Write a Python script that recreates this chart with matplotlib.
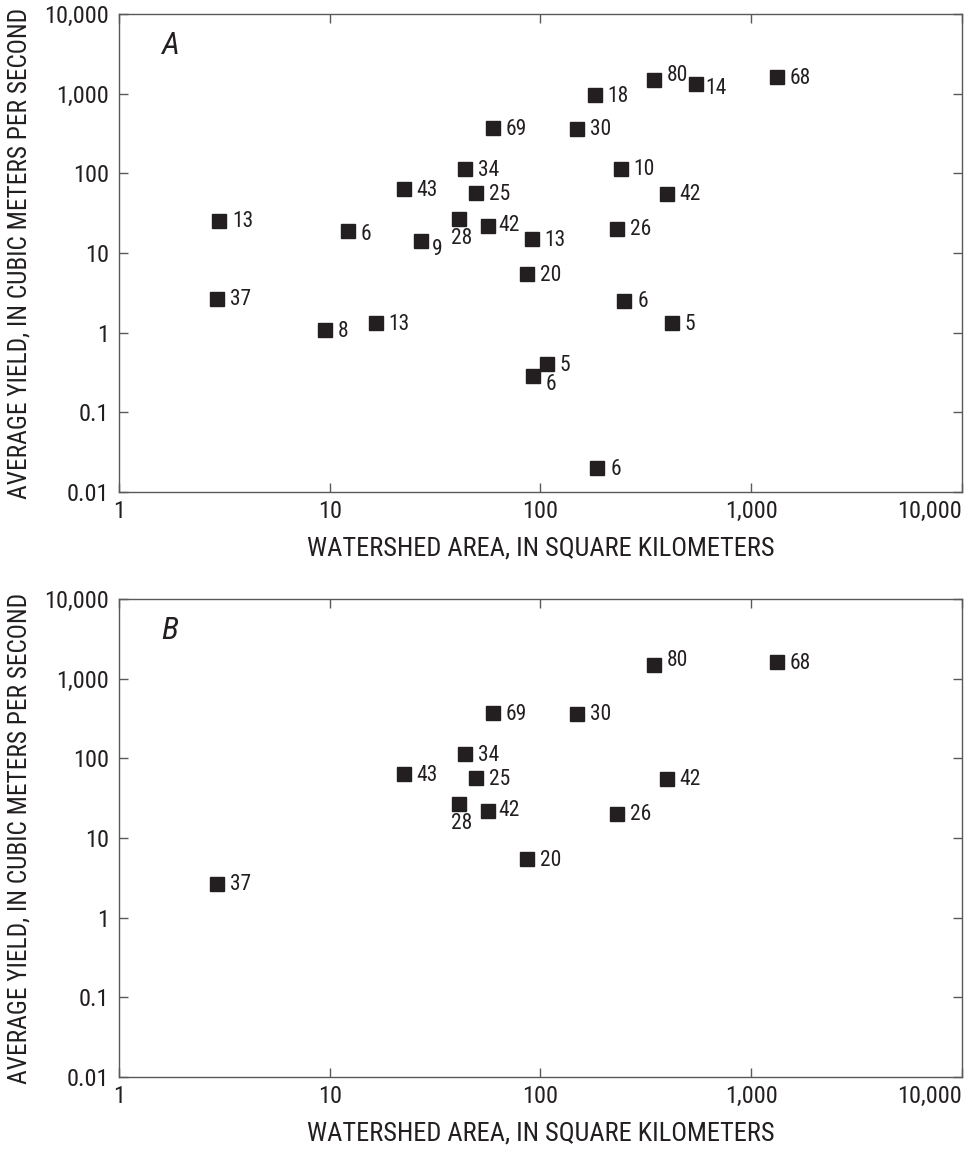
import matplotlib
matplotlib.use('Agg')
import matplotlib.pyplot as plt
from matplotlib import font_manager as fm
from matplotlib.ticker import FixedLocator, FixedFormatter, NullLocator

# panel A: all sites
area_a = [2.98, 2.93, 12.2, 9.53, 16.5, 22.4, 27.0, 40.9, 43.8, 49.3, 56.5, 59.3, 86.6, 90.8,
          92.5, 107, 149, 181, 186, 231, 240, 250, 347, 397, 421, 545, 1321]
yield_a = [25.3, 2.68, 18.9, 1.08, 1.32, 63, 14.3, 26.5, 112, 56, 21.9, 368, 5.42, 14.9,
           0.287, 0.40, 361, 955, 0.020, 20.2, 115, 2.5, 1485, 55.7, 1.32, 1312, 1607]
labels_a = ['13', '37', '6', '8', '13', '43', '9', '28', '34', '25', '42', '69', '20', '13',
            '6', '5', '30', '18', '6', '26', '10', '6', '80', '42', '5', '14', '68']

# panel B: subset
area_b = [2.93, 22.4, 40.9, 43.8, 49.3, 56.5, 59.3, 86.6, 149, 231, 347, 397, 1321]
yield_b = [2.68, 63, 26.5, 112, 56, 21.9, 368, 5.42, 361, 20.2, 1485, 55.7, 1607]
labels_b = ['37', '43', '28', '34', '25', '42', '69', '20', '30', '26', '80', '42', '68']

x_ticks = [1, 10, 100, 1000, 10000]
x_ticklabels = ['1', '10', '100', '1,000', '10,000']
y_ticks = [0.01, 0.1, 1, 10, 100, 1000, 10000]
y_ticklabels = ['0.01', '0.1', '1', '10', '100', '1,000', '10,000']

# label offsets in points (dx, dy, ha) for labels that are not simply to the right
nudge_a = {2: (9.5, -2.2, 'left'), 6: (8, -6.5, 'left'), 7: (2.4, -14, 'center'),
           10: (7.2, 0, 'left'), 14: (9.1, -6, 'left'), 22: (8.6, 3.2, 'left'),
           25: (6.7, -3, 'left')}
nudge_b = {2: (2.4, -14, 'center'), 5: (7.2, 0, 'left'), 10: (8.6, 3.2, 'left')}


# the original uses a condensed sans; look for one, else shrink Liberation Sans
def pick_font():
    names = {f.name for f in fm.fontManager.ttflist}
    for p in ['Liberation Sans Narrow', 'Arial Narrow', 'Roboto Condensed',
              'DejaVu Sans Condensed', 'Open Sans Condensed', 'Noto Sans Condensed']:
        if p in names:
            return p, None, 1.0
    for f in fm.fontManager.ttflist:
        n = f.name
        if any(k in n for k in ('Mono', 'Serif', 'CJK', 'Math')):
            continue
        if ('Narrow' in n or 'Condensed' in n) and f.style == 'normal':
            return n, None, 1.0
    for f in fm.fontManager.ttflist:
        if 'condensed' in str(f.stretch) and f.style == 'normal' and 'Mono' not in f.name \
                and 'Serif' not in f.name and 'CJK' not in f.name:
            return f.name, f.stretch, 1.0
    return 'Liberation Sans', None, 0.86


font_name, font_stretch, scale = pick_font()
plt.rcParams['font.family'] = [font_name, 'DejaVu Sans']
if font_stretch:
    plt.rcParams['font.stretch'] = font_stretch

ink = '#231f20'
spine = '#58595b'

fig = plt.figure(figsize=(9.76, 11.51), dpi=100)
ax_a = fig.add_axes([0.1219, 0.5725, 0.8637, 0.4153])
ax_b = fig.add_axes([0.1219, 0.0643, 0.8637, 0.4153])


def draw_panel(ax, xs, ys, labels, nudge, letter):
    ax.set_xscale('log')
    ax.set_yscale('log')
    ax.plot(xs, ys, ls='none', marker='s', ms=9.4, color=ink, mec=ink)
    for i, (x, y, lab) in enumerate(zip(xs, ys, labels)):
        dx, dy, ha = nudge.get(i, (9.3, -0.7, 'left'))
        ax.annotate(lab, (x, y), xytext=(dx, dy), textcoords='offset points',
                    ha=ha, va='center', fontsize=15.5 * scale, color=ink)
    ax.set_xlim(1, 10000)
    ax.set_ylim(0.01, 10000)
    ax.xaxis.set_major_locator(FixedLocator(x_ticks))
    ax.xaxis.set_major_formatter(FixedFormatter(x_ticklabels))
    ax.yaxis.set_major_locator(FixedLocator(y_ticks))
    ax.yaxis.set_major_formatter(FixedFormatter(y_ticklabels))
    ax.xaxis.set_minor_locator(NullLocator())
    ax.yaxis.set_minor_locator(NullLocator())
    ax.tick_params(direction='in', length=6.7, width=1, color=spine, labelsize=17.5 * scale,
                   labelcolor=ink, top=True, right=True, pad=6)
    ax.tick_params(axis='y', pad=7)
    for s in ax.spines.values():
        s.set_color(spine)
        s.set_linewidth(1)
    ax.set_xlabel('WATERSHED AREA, IN SQUARE KILOMETERS', fontsize=19 * scale, color=ink)
    ax.set_ylabel('AVERAGE YIELD, IN CUBIC METERS PER SECOND', fontsize=18.3 * scale, color=ink)
    ax.xaxis.set_label_coords(0.5, -0.094)
    ax.yaxis.set_label_coords(-0.104, 0.5)
    ax.text(0.06, 0.935, letter, transform=ax.transAxes, fontsize=23, style='italic',
            color=ink, ha='center', va='center')
    # keep the last x tick label inside the figure
    ax.get_xticklabels()[-1].set_horizontalalignment('right')


draw_panel(ax_a, area_a, yield_a, labels_a, nudge_a, 'A')
draw_panel(ax_b, area_b, yield_b, labels_b, nudge_b, 'B')

fig.savefig('out.png', dpi=100)
